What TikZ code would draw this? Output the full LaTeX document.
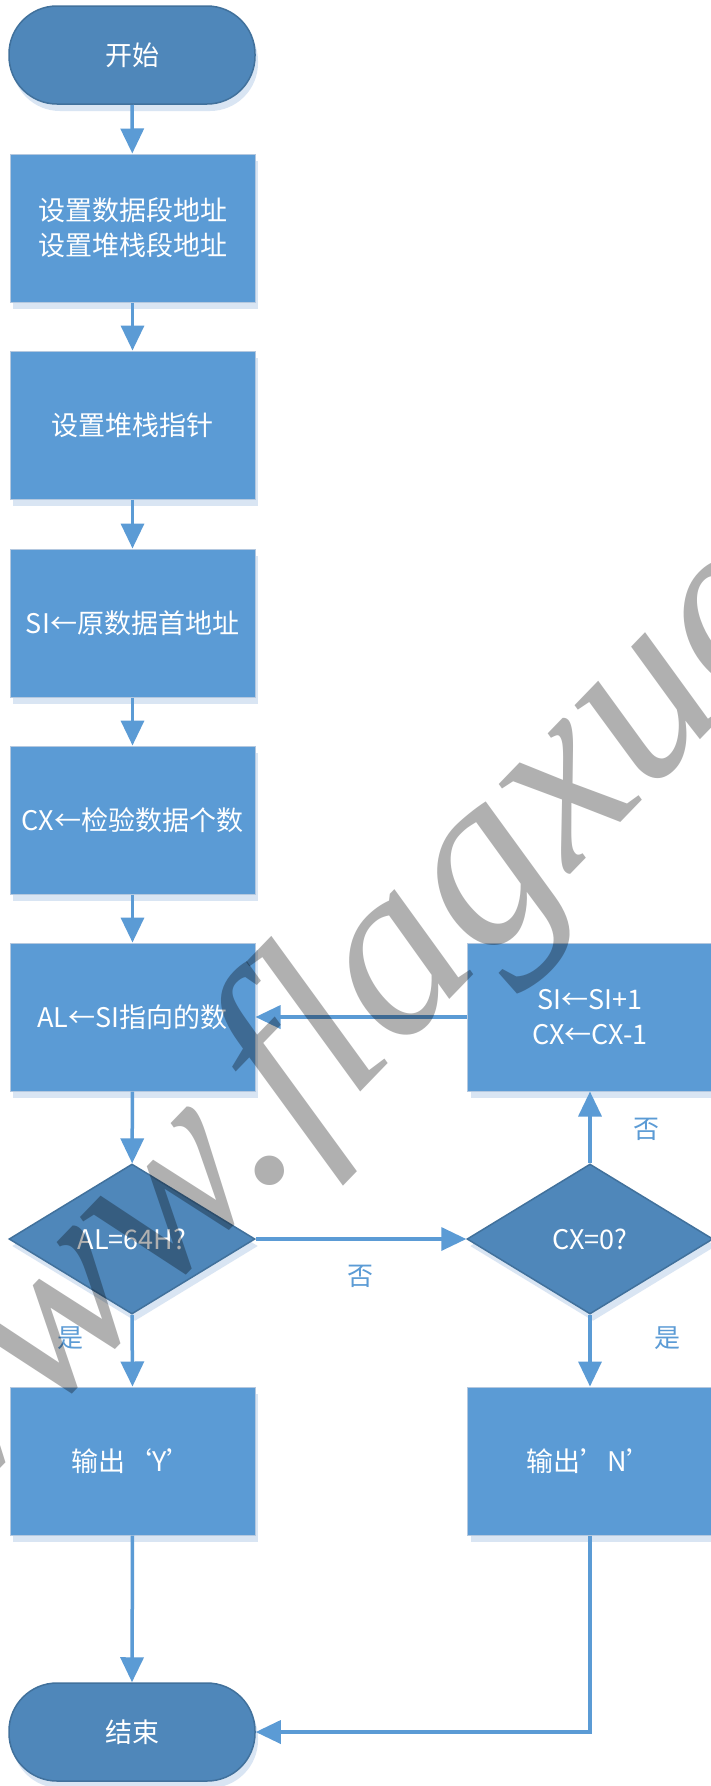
\documentclass[tikz,border=0pt]{standalone}
\usepackage{fontspec}
\setmainfont{Noto Sans CJK SC}
\newfontfamily\wmfont{Liberation Serif}
\usetikzlibrary{arrows.meta,shapes.geometric,shadows}
\definecolor{boxblue}{HTML}{5B9BD5}
\definecolor{darkfill}{HTML}{4F87BA}
\definecolor{darkline}{HTML}{41719C}
\definecolor{boxline}{HTML}{B4C8DF}
\definecolor{shdcol}{HTML}{D9E5F3}
\definecolor{wmcol}{HTML}{B0B0B0}
\begin{document}
\begin{tikzpicture}[x=1pt,y=-1pt,
  txt/.style={text=white,font=\fontsize{27}{35}\selectfont,align=center},
  shd/.style={drop shadow={shadow xshift=3pt,shadow yshift=-7pt,fill=shdcol,opacity=1}},
  procbox/.style={txt,shd,rectangle,draw=boxline,line width=1pt,fill=boxblue,minimum width=245pt,minimum height=148pt,inner sep=0pt},
  term/.style={txt,shd,rectangle,rounded corners=48pt,draw=darkline,line width=1.5pt,fill=darkfill,minimum width=246pt,minimum height=98pt,inner sep=0pt},
  decision/.style={txt,shd,diamond,draw=darkline,line width=1.5pt,fill=darkfill,minimum width=246pt,minimum height=150pt,inner sep=0pt},
  arr/.style={draw=boxblue,line width=3.5pt,-{Triangle[length=25pt,width=23pt]}},
  lbl/.style={text=boxblue,font=\fontsize{26}{30}\selectfont,inner sep=0pt}]
\useasboundingbox[fill=white] (0,0) rectangle (711,1786);

\node[term] (start) at (132,55) {开始};
\node[procbox] (b1) at (132.5,228) {设置数据段地址\\设置堆栈段地址};
\node[procbox] (b2) at (132.5,425) {设置堆栈指针};
\node[procbox] (b3) at (132.5,623) {SI←原数据首地址};
\node[procbox] (b4) at (132.5,820) {CX←检验数据个数};
\node[procbox] (b5) at (132.5,1017) {AL←SI指向的数};
\node[procbox] (r) at (590,1017) {SI←SI+1\\CX←CX-1};
\node[decision] (d1) at (132,1239) {AL=64H?};
\node[decision] (d2) at (590,1239) {CX=0?};
\node[procbox] (oy) at (132.5,1461) {输出‘Y’};
\node[procbox] (on) at (590,1461) {输出’N’};
\node[term] (stop) at (132,1732) {结束};

\draw[arr] (start) -- (b1);
\draw[arr] (b1) -- (b2);
\draw[arr] (b2) -- (b3);
\draw[arr] (b3) -- (b4);
\draw[arr] (b4) -- (b5);
\draw[arr] (b5) -- (d1);
\draw[arr] (d1.east) -- (d2.west);
\draw[arr] (d2.north) -- (r.south);
\draw[arr] (r.west) -- (b5.east);
\draw[arr] (d1.south) -- (oy.north);
\draw[arr] (d2.south) -- (on.north);
\draw[arr] (oy.south) -- (stop.north);
\draw[arr] (on.south) |- (stop.east);

\node[lbl] (l1) at (360,1276) {否};
\node[lbl] (l2) at (646,1129) {否};
\node[lbl] (l3) at (70,1338) {是};
\node[lbl] (l4) at (667,1338) {是};

\begin{scope}[blend mode=multiply]
\node[anchor=base west,rotate=46,text=wmcol,inner sep=0pt,font=\wmfont\itshape\fontsize{248}{248}\selectfont] (wmk) at (-72,1540) {www.flagxue};
\end{scope}
\end{tikzpicture}
\end{document}
